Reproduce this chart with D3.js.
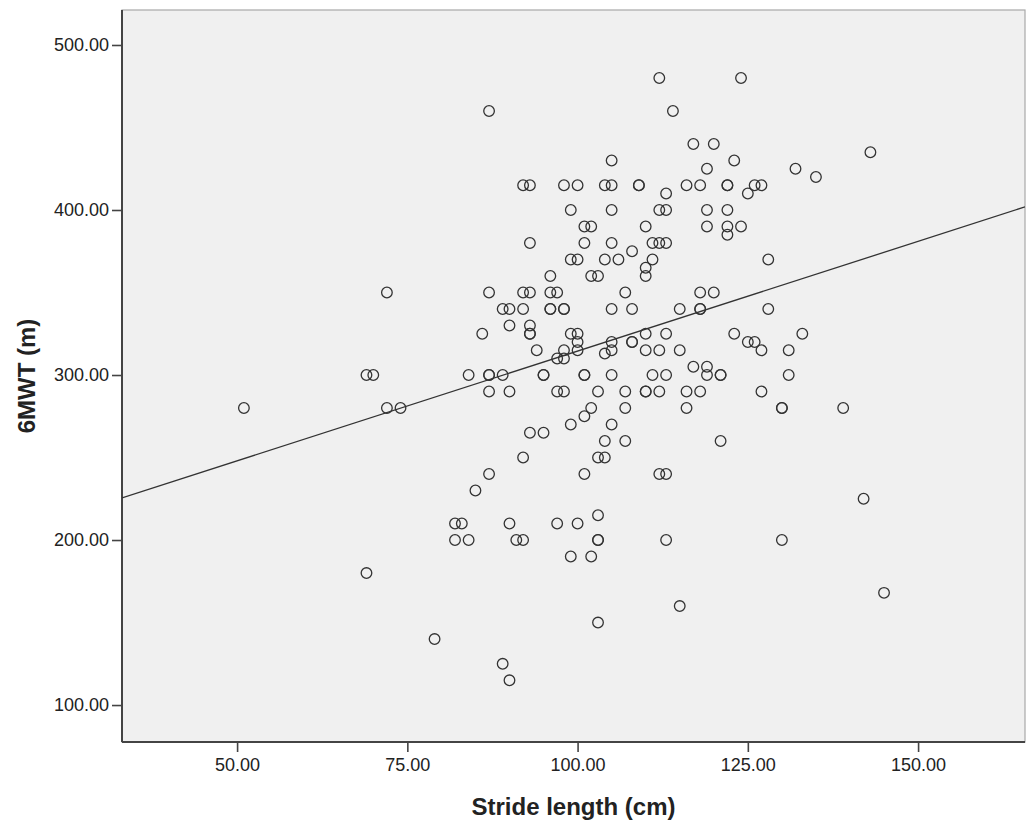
<!DOCTYPE html>
<html>
<head>
<meta charset="utf-8">
<script src="https://cdn.jsdelivr.net/npm/d3@7"></script>
<style>
  html, body { margin: 0; padding: 0; background: #ffffff; }
  svg { display: block; }
</style>
</head>
<body>
<div id="chart"></div>
<script>
// ---- Data ----
const strideLength = [
  87,112,114,117,120,105,119,
  92,93,98,100,104,105,109,109,116,118,122,122,126,127,
  113,125,
  99,105,112,113,119,122,
  101,102,110,119,122,124,122,
  93,101,105,111,112,113,
  108,128,132,135,124,143,123,
  99,100,104,106,111,
  110,110,96,102,103,
  87,92,93,96,97,107,118,120,
  89,90,92,96,96,98,98,105,108,115,118,118,
  90,93,
  86,93,93,99,100,110,113,
  100,105,108,108,
  94,98,100,105,110,112,115,
  104,97,98,
  117,119,
  84,87,87,89,95,95,101,101,105,111,113,119,121,121,
  87,90,97,98,103,107,110,110,112,116,118,
  102,107,116,
  101,99,105,93,95,104,107,121,
  92,103,104,
  87,101,112,113,
  85,
  72,69,70,51,72,74,
  128,123,133,125,126,127,131,131,127,130,130,139,142,
  69,79,82,83,90,97,100,103,82,84,91,92,103,103,113,99,102,115,103,89,90,130,145
];
const sixMWT = [
  460,480,460,440,440,430,425,
  415,415,415,415,415,415,415,415,415,415,415,415,415,415,
  410,410,
  400,400,400,400,400,400,
  390,390,390,390,390,390,385,
  380,380,380,380,380,380,
  375,370,425,420,480,435,430,
  370,370,370,370,370,
  365,360,360,360,360,
  350,350,350,350,350,350,350,350,
  340,340,340,340,340,340,340,340,340,340,340,340,
  330,330,
  325,325,325,325,325,325,325,
  320,320,320,320,
  315,315,315,315,315,315,315,
  313,310,310,
  305,305,
  300,300,300,300,300,300,300,300,300,300,300,300,300,300,
  290,290,290,290,290,290,290,290,290,290,290,
  280,280,280,
  275,270,270,265,265,260,260,260,
  250,250,250,
  240,240,240,240,
  230,
  350,300,300,280,280,280,
  340,325,325,320,320,315,315,300,290,280,280,280,225,
  180,140,210,210,210,210,210,215,200,200,200,200,200,200,200,190,190,160,150,125,115,200,168
];
// Fit line: 6MWT = fitIntercept + fitSlope * stride
const fitIntercept = 181.5;
const fitSlope = 1.33;
const xDomain = [33.1, 165.7];
const yDomain = [77.6, 521.2];
const xTicks = [50, 75, 100, 125, 150];
const yTicks = [100, 200, 300, 400, 500];
const xTitle = "Stride length (cm)";
const yTitle = "6MWT (m)";

// ---- Layout ----
const W = 1027, H = 828;
const pL = 122, pR = 1025, pT = 10, pB = 742;

const svg = d3.select("#chart").append("svg")
  .attr("width", W).attr("height", H);

const x = d3.scaleLinear().domain(xDomain).range([pL, pR]);
const y = d3.scaleLinear().domain(yDomain).range([pB, pT]);

// plot background
svg.append("rect")
  .attr("x", pL).attr("y", pT)
  .attr("width", pR - pL).attr("height", pB - pT)
  .attr("fill", "#f0f0f0")
  .attr("stroke", "#a8a8a8").attr("stroke-width", 1.2);

const fontFam = "'Liberation Sans', Arial, 'DejaVu Sans', sans-serif";

// axes
const xAxis = svg.append("g")
  .attr("transform", `translate(0,${pB})`)
  .call(d3.axisBottom(x).tickValues(xTicks).tickFormat(d3.format(".2f")).tickSize(10).tickPadding(6));
const yAxis = svg.append("g")
  .attr("transform", `translate(${pL},0)`)
  .call(d3.axisLeft(y).tickValues(yTicks).tickFormat(d3.format(".2f")).tickSize(10).tickPadding(3));

[xAxis, yAxis].forEach(g => {
  g.select(".domain").attr("stroke", "#444").attr("stroke-width", 2);
  g.selectAll(".tick line").attr("stroke", "#444").attr("stroke-width", 1.6);
  g.selectAll(".tick text")
    .attr("fill", "#222")
    .style("font-family", fontFam)
    .style("font-size", "18px");
});
xAxis.select(".domain").attr("d", `M${pL},0H${pR}`);
yAxis.select(".domain").attr("d", `M0,${pT}V${pB}`);

// clip for marks
svg.append("clipPath").attr("id", "clip")
  .append("rect").attr("x", pL).attr("y", pT)
  .attr("width", pR - pL).attr("height", pB - pT);

// fit line
const fitFn = v => fitIntercept + fitSlope * v;
svg.append("line")
  .attr("clip-path", "url(#clip)")
  .attr("x1", x(xDomain[0])).attr("y1", y(fitFn(xDomain[0])))
  .attr("x2", x(xDomain[1])).attr("y2", y(fitFn(xDomain[1])))
  .attr("stroke", "#333").attr("stroke-width", 1.3);

// points
const pts = strideLength.map((s, i) => ({ s, w: sixMWT[i] }));
svg.append("g").selectAll("circle")
  .data(pts).join("circle")
  .attr("cx", d => x(d.s))
  .attr("cy", d => y(d.w))
  .attr("r", 5.3)
  .attr("fill", "none")
  .attr("stroke", "#333")
  .attr("stroke-width", 1.3);

// titles
svg.append("text")
  .attr("x", (pL + pR) / 2).attr("y", 815)
  .attr("text-anchor", "middle")
  .style("font-family", fontFam)
  .style("font-weight", "bold")
  .style("font-size", "24px")
  .attr("fill", "#222")
  .text(xTitle);

svg.append("text")
  .attr("transform", `translate(35,${(pT + pB) / 2}) rotate(-90)`)
  .attr("text-anchor", "middle")
  .style("font-family", fontFam)
  .style("font-weight", "bold")
  .style("font-size", "24px")
  .attr("fill", "#222")
  .text(yTitle);
</script>
</body>
</html>
